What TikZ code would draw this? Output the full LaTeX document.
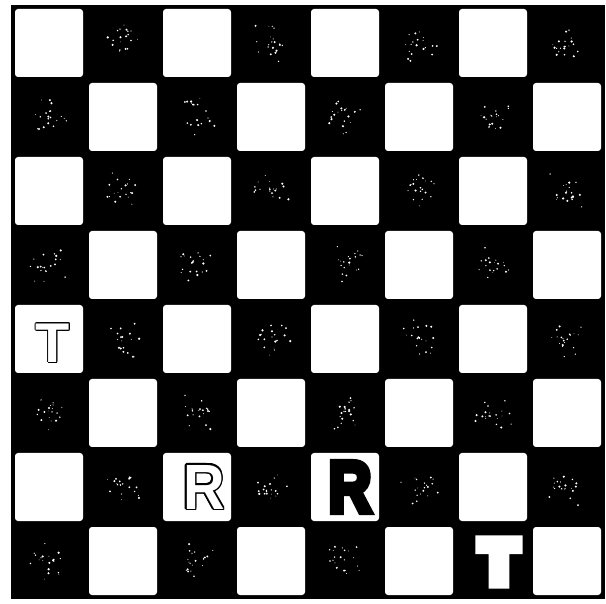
\documentclass[tikz,border=0pt]{standalone}
\usepackage{fontspec}
\setmainfont{Liberation Sans}
\newfontfamily\heavyR{Liberation Sans Bold}[FakeBold=9]
\newfontfamily\heavyT{Liberation Sans Bold}[FakeBold=20]
\begin{document}
\begin{tikzpicture}[x=1pt,y=-1pt,
  lightsq/.style={fill=white,rounded corners=3pt},
  piece/.style={inner sep=0pt,outer sep=0pt,font=\bfseries\fontsize{#1}{#1}\selectfont},
  speck/.style={fill=white}]
\useasboundingbox (0,0) rectangle (606,604);
\fill[white] (0,0) rectangle (606,604);
% board
\fill[black] (11,5) rectangle (605,599);
\foreach \r in {0,...,7}{
  \foreach \c in {0,...,7}{
    \pgfmathtruncatemacro\p{mod(\r+\c,2)}
    \ifnum\p=0
      \fill[lightsq] ({12+74*\c+3},{6+74*\r+3}) rectangle ++(68,68);
    \fi
  }
}
% speckles on dark squares
\pgfmathsetseed{4242}
\foreach \r in {0,...,7}{
  \foreach \c in {0,...,7}{
    \pgfmathtruncatemacro\p{(\r==7 && \c==6) ? 2 : mod(\r+\c,2)}
    \ifnum\p=1
      \foreach \k in {1,...,20}{
        \pgfmathsetmacro\dx{(rnd+rnd-1)*20}
        \pgfmathsetmacro\dy{(rnd+rnd-1)*20}
        \pgfmathsetmacro\rr{0.35+rnd*0.9}
        \fill[speck] ({12+74*\c+37+\dx},{6+74*\r+37+\dy}) circle (\rr);
      }
    \fi
  }
}
% outlined T
\foreach \a in {0,30,...,330}
  \node[piece=56,text=black,shift={(\a:0.9)}] at (53,343) {T};
\node[piece=56,text=white] (T1) at (53,343) {T};
% outlined R
\foreach \a in {0,22.5,...,337.5}
  \node[piece=64,text=black,xscale=0.9,transform shape,shift={(\a:1.6)}] at (204,487) {R};
\node[piece=64,text=white,xscale=0.9,transform shape] (R1) at (204,487) {R};
% bold black R
\node[inner sep=0pt,text=black,font=\heavyR\fontsize{72}{72}\selectfont,xscale=0.82,transform shape] (R2) at (350,487) {R};
% heavy white T
\node[inner sep=0pt,text=white,font=\heavyT\fontsize{60}{60}\selectfont] (T2) at (499,562) {T};
\end{tikzpicture}
\end{document}
